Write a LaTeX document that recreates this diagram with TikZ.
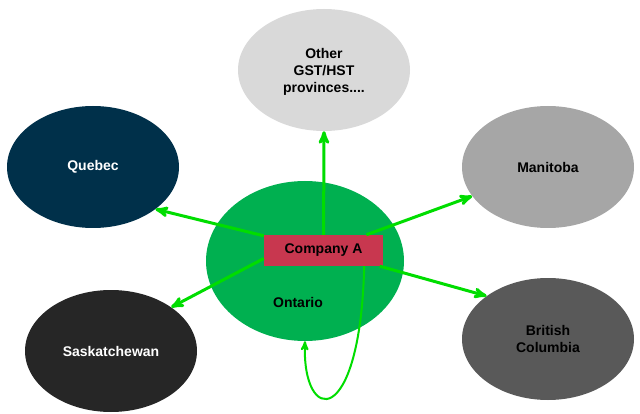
\documentclass[tikz,border=0pt]{standalone}
\usepackage{fontspec}
\setmainfont{Liberation Sans}
\usetikzlibrary{shapes.geometric, positioning, arrows}
\definecolor{ontgreen}{HTML}{00B050}
\definecolor{linkgreen}{HTML}{00DD00}
\definecolor{compred}{HTML}{C8374F}
\definecolor{quebecblue}{HTML}{00304A}
\definecolor{saskgray}{HTML}{262626}
\definecolor{bcgray}{HTML}{595959}
\tikzset{x=1pt, y=-1pt, % One unit is one pixel of the page, y running downwards
province/.style={ % Sets the properties for each province
ellipse, inner sep=0pt,
minimum width=172pt, minimum height=122pt,
font=\fontsize{14}{17}\selectfont\bfseries, align=center},
company/.style={ % The company box in the middle
rectangle, fill=compred, minimum width=119pt, minimum height=31pt,
font=\fontsize{14}{17}\selectfont\bfseries},
link/.style={ % Sets the properties for each connector
draw=linkgreen, ->, >=stealth', line width=3pt}}

\begin{document}
\begin{tikzpicture}
    \useasboundingbox (0,0) rectangle (640,414);
    
    \node[province, fill=gray!30, text depth=-4pt] (other) at (324,70) {Other\\GST/HST\\provinces....};
    \node[province, fill=quebecblue, text=white] (quebec) at (93,167) {Quebec};
    \node[province, fill=gray!70] (manitoba) at (548,167) {Manitoba};
    \node[province, fill=saskgray, text=white] (sask) at (111,351) {Saskatchewan};
    \node[province, fill=bcgray] (bc) at (548,339) {British\\Columbia};
    \node[province, fill=ontgreen, minimum width=198pt, minimum height=160pt] (ontario) at (305,261) {};
    \node[font=\fontsize{14}{17}\selectfont\bfseries] (ontlabel) at (298,302) {Ontario};
    \node[company] (comp) at (323.5,250.5) {Company A};
    
    \draw[link] (comp) -- (quebec.-34);
    \draw[link] (comp) -- (other.south);
    \draw[link] (comp) -- (manitoba.201);
    \draw[link] ([yshift=-8pt]comp.west) -- (sask.36);
    \draw[link] (comp) -- (bc.145);
    \draw[link, line width=2pt] ([xshift=-19pt]comp.south east) .. controls +(-4,164) and +(-3,84) .. (ontario.south);
    
\end{tikzpicture}
\end{document}
